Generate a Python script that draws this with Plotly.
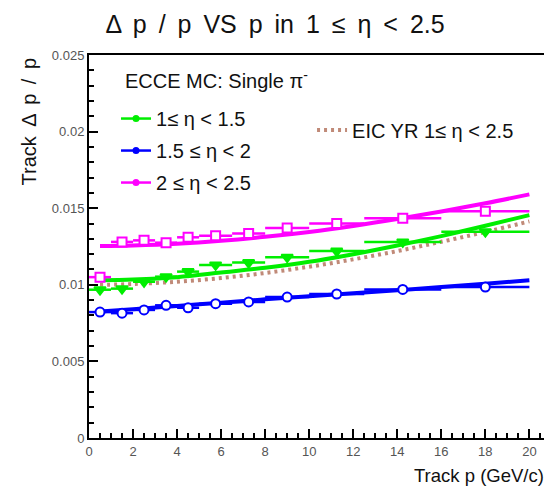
import plotly.graph_objects as go

# ---------------- data ----------------
p_centers = [0.5, 1.5, 2.5, 3.5, 4.5, 5.75, 7.25, 9.0, 11.25, 14.25, 18.0]
p_halfwidth = [0.5, 0.5, 0.5, 0.5, 0.5, 0.75, 0.75, 1.0, 1.25, 1.75, 2.0]

res_eta_1_15 = [0.00968, 0.00975, 0.0102, 0.01053, 0.01086, 0.0113, 0.01145, 0.0118, 0.0122, 0.0128, 0.01347]
res_eta_15_2 = [0.00822, 0.00815, 0.00836, 0.00866, 0.0085, 0.00877, 0.00888, 0.0092, 0.0094, 0.0097, 0.00985]
res_eta_2_25 = [0.0105, 0.0128, 0.0129, 0.01275, 0.0131, 0.0132, 0.01335, 0.0137, 0.0140, 0.01435, 0.0148]

# fit curves / requirement curve
p_curve = [0.5, 2, 4, 6, 8, 10, 12, 14, 16, 18, 20]
fit_eta_1_15 = [0.0103, 0.01035, 0.0105, 0.0108, 0.01111, 0.0115, 0.0120, 0.01257, 0.01318, 0.01385, 0.01455]
fit_eta_15_2 = [0.00825, 0.0084, 0.00862, 0.00883, 0.00905, 0.00925, 0.00945, 0.00965, 0.00985, 0.01007, 0.0103]
fit_eta_2_25 = [0.01253, 0.01257, 0.01268, 0.01287, 0.01313, 0.01345, 0.01384, 0.01429, 0.01478, 0.01532, 0.0159]
yr_requirement = [0.0100, 0.01005, 0.0102, 0.01044, 0.01077, 0.01118, 0.01166, 0.0122, 0.01281, 0.01345, 0.01414]

TS = "\u2009"  # thin space, imitating the wider TLatex spacing
labels = ["1≤ η < 1.5", "1.5 ≤ η < 2", "2 ≤ η < 2.5"]
yr_label = "EIC YR 1≤ η < 2.5"
title_text = ("Δ p / p VS p in 1 ≤ η < 2.5").replace(" ", " " + TS)
ytitle_text = ("Track Δ p / p").replace(" ", " " + TS)
xtitle_text = "Track p (GeV/c)"
header_text = "ECCE MC: Single π<sup>-</sup>"

GREEN = "#00ee00"
BLUE = "#0000ff"
MAGENTA = "#ff00ff"
BROWN = "#c08a78"
FONT = "Liberation Sans, Arial, sans-serif"

fig = go.Figure()

# requirement curve
fig.add_trace(go.Scatter(
    x=p_curve, y=yr_requirement, mode="lines", line_shape="spline",
    line=dict(color=BROWN, width=4, dash="3px,4px"),
    name=yr_label, legend="legend2", showlegend=True))

series = [
    (res_eta_1_15, fit_eta_1_15, GREEN, "triangle-down", GREEN, labels[0]),
    (res_eta_15_2, fit_eta_15_2, BLUE, "circle", "white", labels[1]),
    (res_eta_2_25, fit_eta_2_25, MAGENTA, "square", "white", labels[2]),
]

for i, (vals, fit, col, sym, fill, lab) in enumerate(series):
    fig.add_trace(go.Scatter(
        x=p_curve, y=fit, mode="lines", line_shape="spline",
        line=dict(color=col, width=4), showlegend=False, hoverinfo="skip"))
    fig.add_trace(go.Scatter(
        x=p_centers, y=vals, mode="markers",
        error_x=dict(type="data", array=p_halfwidth, color=col, thickness=2.5, width=0),
        marker=dict(symbol=sym, size=9 if sym != "triangle-down" else 10,
                    color=fill, line=dict(color=col, width=2)),
        showlegend=False))

# legend-only entries
for i, (vals, fit, col, sym, fill, lab) in enumerate(series):
    fig.add_trace(go.Scatter(
        x=[None], y=[None], mode="lines+markers", name=lab,
        line=dict(color=col, width=2.5),
        marker=dict(symbol="circle", size=7, color=col),
        legend="legend", legendgroup=f"g{i}", showlegend=True))

# page body has an 8px margin: figure is shrunk so the plot sits where the reference has it
fig.update_layout(
    width=544, height=484,
    margin=dict(l=81, r=3, t=47, b=54),
    paper_bgcolor="white", plot_bgcolor="white",
    font=dict(family=FONT, color="#222"),
    title=dict(text=title_text, x=0.491, xanchor="center", xref="container",
               y=0.967, yanchor="middle", yref="container",
               font=dict(size=25, color="#111")),
    legend=dict(x=0.059, y=0.885, xanchor="left", yanchor="top",
                bgcolor="rgba(0,0,0,0)", borderwidth=0,
                font=dict(size=20, color="#111"),
                traceorder="grouped", tracegroupgap=3, itemwidth=30),
    legend2=dict(x=0.487, y=0.804, xanchor="left", yanchor="middle",
                 bgcolor="rgba(0,0,0,0)", borderwidth=0,
                 font=dict(size=20, color="#111"), itemwidth=30),
    xaxis=dict(range=[0, 20.8], tick0=0, dtick=2, ticks="inside", ticklen=9,
               tickwidth=1.5, tickcolor="black", showline=True, linewidth=2,
               linecolor="black", mirror=True, showgrid=False, zeroline=False,
               tickfont=dict(size=13, color="#555"),
               minor=dict(dtick=0.5, ticks="inside", ticklen=5, tickwidth=1.5,
                          tickcolor="black", showgrid=False)),
    yaxis=dict(range=[0, 0.025], tick0=0, dtick=0.005, ticks="inside", ticklen=9,
               tickwidth=1.5, tickcolor="black", showline=True, linewidth=2,
               linecolor="black", mirror=True, showgrid=False, zeroline=False,
               tickfont=dict(size=13, color="#555"),
               minor=dict(dtick=0.001, ticks="inside", ticklen=5, tickwidth=1.5,
                          tickcolor="black", showgrid=False)),
    annotations=[
        dict(text=ytitle_text, xref="paper", yref="paper", x=-0.13, y=1.0,
             xanchor="center", yanchor="top", textangle=-90, showarrow=False,
             font=dict(size=20, color="#111")),
        dict(text=xtitle_text, xref="paper", yref="paper", x=0.998, y=-0.097,
             xanchor="right", yanchor="middle", showarrow=False,
             font=dict(size=18.5, color="#111")),
        dict(text=header_text, xref="paper", yref="paper", x=0.075, y=0.935,
             xanchor="left", yanchor="middle", showarrow=False,
             font=dict(size=20, color="#111")),
    ],
)

fig.write_html("out.html")
